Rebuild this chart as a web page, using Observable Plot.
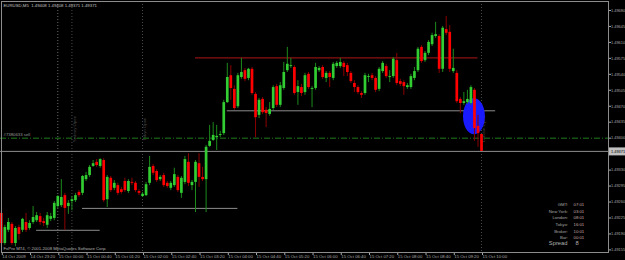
<!DOCTYPE html>
<html><head><meta charset="utf-8">
<script src="https://cdn.jsdelivr.net/npm/d3@7"></script>
<script src="https://cdn.jsdelivr.net/npm/@observablehq/plot@0.6"></script>
<style>html,body{margin:0;padding:0;background:#000;}#chart svg{display:block}</style>
</head><body><div id="chart"></div>
<script>
// ---- data (EURUSD M5, bars from 14 Oct 2009 22:40, one every 5 minutes) ----
const symbol = "EURUSD,M5";
const opens = [1.49235,1.49169,1.49198,1.49211,1.49169,1.49204,1.49198,1.49215,1.49202,1.49215,1.49219,1.49228,1.49217,1.49209,1.49222,1.49224,1.49250,1.49252,1.49274,1.49250,1.49261,1.49263,1.49281,1.49279,1.49309,1.49318,1.49338,1.49347,1.49338,1.49351,1.49265,1.49312,1.49290,1.49296,1.49287,1.49305,1.49283,1.49303,1.49301,1.49283,1.49272,1.49274,1.49301,1.49338,1.49327,1.49309,1.49318,1.49301,1.49290,1.49296,1.49314,1.49279,1.49303,1.49347,1.49296,1.49303,1.49344,1.49314,1.49309,1.49382,1.49395,1.49401,1.49406,1.49410,1.49478,1.49537,1.49507,1.49469,1.49533,1.49548,1.49531,1.49551,1.49496,1.49450,1.49485,1.49461,1.49452,1.49465,1.49513,1.49472,1.49509,1.49548,1.49557,1.49555,1.49500,1.49511,1.49500,1.49540,1.49507,1.49509,1.49548,1.49555,1.49531,1.49542,1.49531,1.49557,1.49557,1.49564,1.49559,1.49542,1.49520,1.49511,1.49498,1.49498,1.49533,1.49537,1.49531,1.49507,1.49546,1.49557,1.49533,1.49535,1.49570,1.49524,1.49522,1.49511,1.49511,1.49531,1.49548,1.49599,1.49570,1.49586,1.49605,1.49623,1.49623,1.49551,1.49638,1.49632,1.49546,1.49542,1.49485,1.49476,1.49478,1.49476,1.49505,1.49426,1.49408];
const highs = [1.49241,1.49209,1.49224,1.49215,1.49206,1.49209,1.49224,1.49235,1.49219,1.49250,1.49237,1.49235,1.49224,1.49237,1.49235,1.49261,1.49274,1.49309,1.49279,1.49263,1.49272,1.49279,1.49285,1.49318,1.49325,1.49340,1.49351,1.49353,1.49355,1.49355,1.49318,1.49316,1.49307,1.49301,1.49292,1.49312,1.49309,1.49312,1.49305,1.49287,1.49281,1.49303,1.49360,1.49342,1.49331,1.49318,1.49323,1.49305,1.49305,1.49334,1.49318,1.49316,1.49360,1.49366,1.49307,1.49351,1.49366,1.49336,1.49384,1.49428,1.49434,1.49428,1.49415,1.49483,1.49564,1.49559,1.49515,1.49542,1.49575,1.49553,1.49553,1.49555,1.49500,1.49487,1.49489,1.49467,1.49478,1.49515,1.49518,1.49522,1.49566,1.49599,1.49575,1.49559,1.49526,1.49518,1.49542,1.49544,1.49513,1.49564,1.49557,1.49559,1.49546,1.49546,1.49566,1.49568,1.49575,1.49568,1.49564,1.49546,1.49526,1.49515,1.49502,1.49542,1.49540,1.49542,1.49535,1.49555,1.49568,1.49562,1.49548,1.49577,1.49586,1.49529,1.49526,1.49520,1.49540,1.49555,1.49599,1.49603,1.49590,1.49614,1.49630,1.49654,1.49627,1.49645,1.49667,1.49647,1.49595,1.49548,1.49489,1.49500,1.49505,1.49515,1.49509,1.49450,1.49408];
const lows = [1.49162,1.49165,1.49193,1.49165,1.49162,1.49176,1.49193,1.49193,1.49198,1.49211,1.49215,1.49209,1.49206,1.49202,1.49217,1.49219,1.49246,1.49248,1.49198,1.49233,1.49241,1.49259,1.49270,1.49274,1.49305,1.49314,1.49336,1.49336,1.49334,1.49259,1.49248,1.49281,1.49285,1.49274,1.49277,1.49281,1.49279,1.49296,1.49281,1.49274,1.49270,1.49272,1.49296,1.49318,1.49303,1.49305,1.49292,1.49290,1.49285,1.49292,1.49281,1.49268,1.49298,1.49294,1.49285,1.49237,1.49292,1.49305,1.49237,1.49380,1.49393,1.49373,1.49401,1.49406,1.49476,1.49483,1.49461,1.49465,1.49529,1.49524,1.49526,1.49494,1.49401,1.49443,1.49452,1.49423,1.49448,1.49461,1.49467,1.49467,1.49505,1.49544,1.49553,1.49494,1.49472,1.49491,1.49494,1.49507,1.49467,1.49505,1.49544,1.49529,1.49522,1.49511,1.49526,1.49553,1.49553,1.49535,1.49535,1.49520,1.49500,1.49496,1.49487,1.49494,1.49522,1.49526,1.49500,1.49502,1.49542,1.49531,1.49522,1.49531,1.49515,1.49513,1.49494,1.49507,1.49507,1.49526,1.49544,1.49564,1.49566,1.49581,1.49601,1.49619,1.49542,1.49544,1.49625,1.49544,1.49542,1.49476,1.49454,1.49472,1.49474,1.49472,1.49393,1.49380,1.49371];
const closes = [1.49169,1.49204,1.49215,1.49169,1.49202,1.49189,1.49222,1.49198,1.49213,1.49226,1.49230,1.49215,1.49213,1.49230,1.49228,1.49257,1.49272,1.49270,1.49246,1.49257,1.49265,1.49274,1.49274,1.49316,1.49318,1.49336,1.49344,1.49340,1.49353,1.49263,1.49314,1.49285,1.49301,1.49279,1.49281,1.49285,1.49305,1.49301,1.49285,1.49279,1.49277,1.49298,1.49336,1.49323,1.49307,1.49314,1.49296,1.49294,1.49301,1.49320,1.49285,1.49312,1.49353,1.49301,1.49303,1.49347,1.49314,1.49309,1.49380,1.49393,1.49406,1.49404,1.49408,1.49478,1.49533,1.49509,1.49465,1.49537,1.49544,1.49529,1.49551,1.49498,1.49445,1.49483,1.49456,1.49454,1.49463,1.49511,1.49472,1.49515,1.49544,1.49562,1.49559,1.49498,1.49513,1.49498,1.49537,1.49511,1.49509,1.49555,1.49553,1.49533,1.49542,1.49533,1.49562,1.49564,1.49566,1.49555,1.49544,1.49524,1.49511,1.49500,1.49494,1.49537,1.49535,1.49531,1.49505,1.49551,1.49564,1.49535,1.49535,1.49573,1.49520,1.49518,1.49513,1.49515,1.49535,1.49546,1.49595,1.49568,1.49586,1.49610,1.49625,1.49627,1.49551,1.49641,1.49630,1.49551,1.49553,1.49480,1.49476,1.49480,1.49485,1.49511,1.49421,1.49410,1.49371];

const xTickBars = [0,8,16,24,32,40,48,56,64,72,80,88,96,104,112,120,128,136];
const xTickLabels = ["14 Oct 2009","14 Oct 23:20","15 Oct 00:00","15 Oct 00:40","15 Oct 01:20","15 Oct 02:00","15 Oct 02:40","15 Oct 03:20","15 Oct 04:00","15 Oct 04:40","15 Oct 05:20","15 Oct 06:00","15 Oct 06:40","15 Oct 07:20","15 Oct 08:00","15 Oct 08:40","15 Oct 09:20","15 Oct 10:00"];
const yTicks = [1.49680,1.49645,1.49610,1.49575,1.49540,1.49505,1.49470,1.49435,1.49400,1.49330,1.49295,1.49260,1.49225,1.49190,1.49155];

// drawn objects
const resistancePrice = 1.49576, resistanceBars = [55, 135];
const levelPrices = [1.49460, 1.49246, 1.49198];
const levelFrom = [64, 23, 10];
const levelTo = [140, 67, 28];
const orderPrice = 1.49400, orderLabel = "#7380633 sell";
const bidPrice = 1.49371;
const vlineBars = [16, 20, 40, 136];
const vlineNames = ["", "Sydney Open", "Tokyo Open", "London Open"];
const ellipseCenter = [134, 1.49447];
const ellipseRadius = [3.1, 0.000395];

// info panel
const infoLabels = ["GMT:", "New York:", "London:", "Tokyo:", "Broker:", "Bar:"];
const infoValues = ["07:01", "03:01", "08:01", "16:01", "10:01", "00:01"];
const spreadLabel = "Spread", spreadValue = "8";
const copyright = "FxPro MT4, \u00a9 2001-2008 MetaQuotes Software Corp.";

// ---- build ----
const bars = opens.map((o, i) => ({i, open: o, high: highs[i], low: lows[i], close: closes[i]}));
const bull = bars.filter(d => d.close >= d.open);
const bear = bars.filter(d => d.close < d.open);
const last = bars[bars.length - 1];
const fmt = d3.format(".5f");
const header = `${symbol}\u00a0\u00a0${fmt(last.open)} ${fmt(last.high)} ${fmt(last.low)} ${fmt(last.close)}`;

const eN = 80;
const ell = d3.range(eN + 1).map(k => {
  const x = ellipseCenter[0] - ellipseRadius[0] + 2 * ellipseRadius[0] * k / eN;
  const u = (x - ellipseCenter[0]) / ellipseRadius[0];
  const h = ellipseRadius[1] * Math.sqrt(Math.max(0, 1 - u * u));
  return {x, y1: ellipseCenter[1] - h, y2: ellipseCenter[1] + h};
});
const levels = levelPrices.map((p, k) => ({p, a: levelFrom[k], b: levelTo[k]}));
const xDomain = [-0.2266, 171.96];
const yDomain = [1.491493, 1.496997];
const FS = 4.3;

const chart = Plot.plot({
  width: 625, height: 260,
  marginLeft: 0, marginRight: 17, marginTop: 1, marginBottom: 8,
  x: {type: "linear", domain: xDomain},
  y: {type: "linear", domain: yDomain},
  style: {background: "#000", fontFamily: "'Liberation Sans', Arial, sans-serif", color: "#b0b0b0"},
  marks: [
    Plot.ruleX(vlineBars, {x: d => d, stroke: d => d === 16 ? "#6a6a6a" : "#4a4a4a", strokeDasharray: "1,2"}),
    Plot.text(vlineBars.map((b, k) => ({b, name: vlineNames[k]})).filter(d => d.name), {x: "b", text: "name", frameAnchor: "middle", rotate: -90, dx: 2.5, dy: 2, fontSize: FS, fill: "#4a4a4a"}),
    Plot.ruleY([bidPrice], {y: d => d, stroke: "#8c8c8c"}),
    Plot.ruleY([orderPrice], {y: d => d, stroke: "#1f7a1f", strokeDasharray: "6,2,1,2"}),
    Plot.text([orderLabel], {y: () => orderPrice, text: d => d, frameAnchor: "left", dx: 3, dy: -3.5, textAnchor: "start", fontSize: FS, fill: "#9a9a9a"}),
    Plot.ruleY(levels, {y: "p", x1: "a", x2: "b", stroke: "#8c8c8c"}),
    Plot.ruleY([resistancePrice], {y: d => d, x1: () => resistanceBars[0], x2: () => resistanceBars[1], stroke: "#8b1010", strokeWidth: 1.2}),
    Plot.areaY(ell, {x: "x", y1: "y1", y2: "y2", fill: "#1a1aff"}),
    // wicks
    Plot.ruleX(bull, {x: "i", y1: "low", y2: "high", stroke: "#1c8a1c"}),
    Plot.ruleX(bear, {x: "i", y1: "low", y2: "high", stroke: "#8b0000"}),
    // bodies
    Plot.ruleX(bull, {x: "i", y1: "open", y2: "close", stroke: "#32cd32", strokeWidth: 2.7}),
    Plot.ruleX(bear, {x: "i", y1: "open", y2: "close", stroke: "#ff0000", strokeWidth: 2.7}),
    // texts
    Plot.text([header], {text: d => d, frameAnchor: "top-left", dx: 3, dy: 3.7, textAnchor: "start", lineAnchor: "middle", fontSize: FS, fill: "#c0c0c0"}),
    Plot.text([copyright], {text: d => d, frameAnchor: "bottom-left", dx: 3, dy: -3.7, textAnchor: "start", lineAnchor: "middle", fontSize: FS, fill: "#b0b0b0"}),
    Plot.text([infoLabels.join("\n")], {text: d => d, frameAnchor: "bottom-right", dx: -40.5, dy: -32, textAnchor: "end", lineAnchor: "middle", lineHeight: 1.553, fontSize: FS, fill: "#a8a8a8"}),
    Plot.text([infoValues.join("\n")], {text: d => d, frameAnchor: "bottom-right", dx: -35, dy: -32, textAnchor: "start", lineAnchor: "middle", lineHeight: 1.553, fontSize: FS, fill: "#c8a8a8"}),
    Plot.text([spreadLabel], {text: d => d, frameAnchor: "bottom-right", dx: -41, dy: -9.3, textAnchor: "end", lineAnchor: "middle", fontSize: 5.8, fill: "#b0b0b0"}),
    Plot.text([spreadValue], {text: d => d, frameAnchor: "bottom-right", dx: -33, dy: -9.3, textAnchor: "start", lineAnchor: "middle", fontSize: 5.8, fill: "#b0b0b0"}),
    // axes
    Plot.axisX({ticks: xTickBars, tickFormat: d => xTickLabels[xTickBars.indexOf(d)], anchor: "bottom", tickSize: 3, tickPadding: -0.5, textAnchor: "start", dx: 1, fontSize: FS, color: "#a8a8a8", label: null}),
    Plot.axisY({ticks: yTicks, tickFormat: fmt, anchor: "right", tickSize: 2, tickPadding: 0.5, fontSize: 3.9, color: "#a8a8a8", label: null}),
    // current price box on the axis
    Plot.ruleY([{y: bidPrice, a: xDomain[1], b: xDomain[1] + 5}], {y: "y", x1: "a", x2: "b", stroke: "#c0c0c0", strokeWidth: 8}),
    Plot.text([bidPrice], {y: d => d, text: fmt, frameAnchor: "right", dx: 2.5, textAnchor: "start", fontSize: 3.9, fill: "#000"}),
    Plot.frame({stroke: "#8c8c8c", insetLeft: 1})
  ]
});
document.getElementById("chart").appendChild(chart);
</script>
</body></html>
